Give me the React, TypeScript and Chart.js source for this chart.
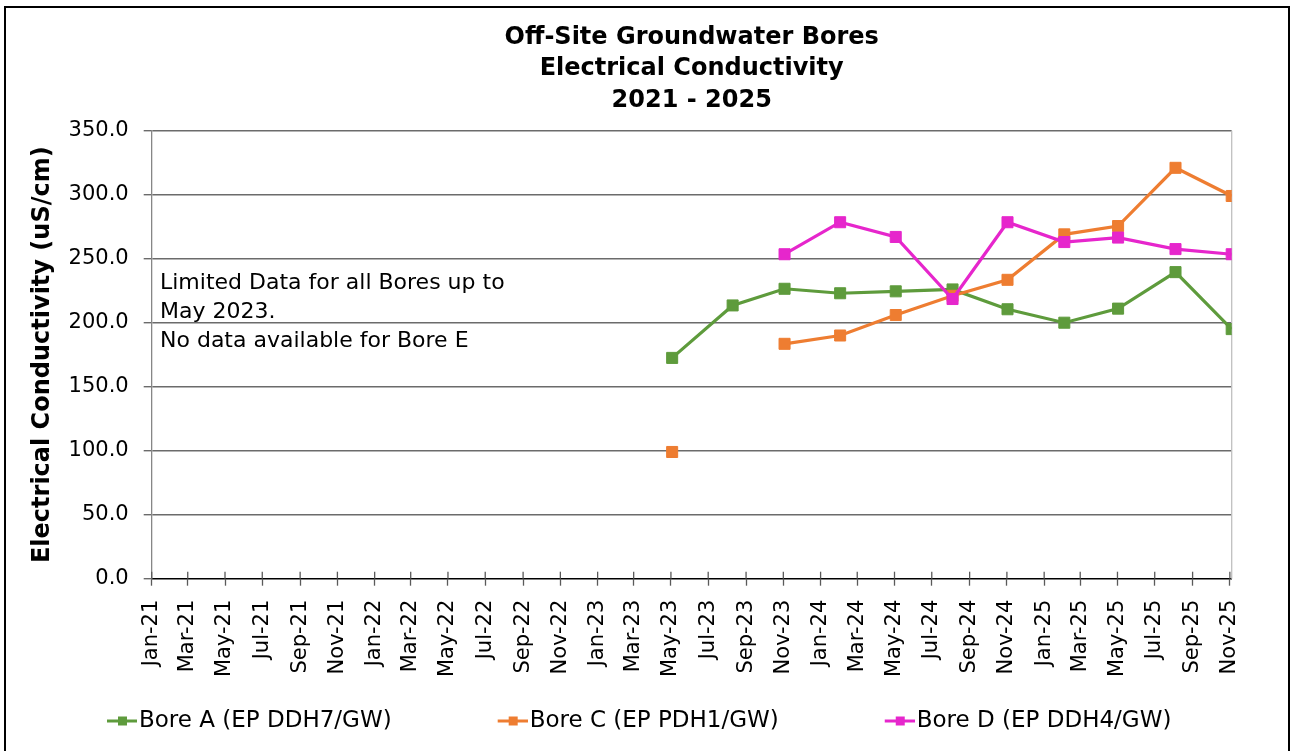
import React, { useEffect, useRef } from 'react';
import { Chart, registerables } from 'chart.js';

Chart.register(...registerables);

// ---- data ----
const SAMPLE_DATES = [
  '2023-05-03', '2023-08-10', '2023-11-03', '2024-02-02', '2024-05-03', '2024-08-04',
  '2024-11-02', '2025-02-03', '2025-05-02', '2025-08-04', '2025-11-04',
];
const BORE_A = [172.5, 213.5, 226.5, 223, 224.5, 226, 210.5, 200, 211, 239.5, 195];
const BORE_C = [99, null, 183.5, 190, 206, 221, 233.5, 269, 275.5, 321, 299];
const BORE_D = [null, null, 253.5, 278.5, 267, 218.5, 278.5, 263, 266.5, 257.5, 253.5];
const SERIES_NAMES = ['Bore A (EP DDH7/GW)', 'Bore C (EP PDH1/GW)', 'Bore D (EP DDH4/GW)'];
const SERIES_COLORS = ['#5E9B3C', '#EE7D31', '#E626CC'];
const TICK_LABELS = [
  'Jan-21', 'Mar-21', 'May-21', 'Jul-21', 'Sep-21', 'Nov-21',
  'Jan-22', 'Mar-22', 'May-22', 'Jul-22', 'Sep-22', 'Nov-22',
  'Jan-23', 'Mar-23', 'May-23', 'Jul-23', 'Sep-23', 'Nov-23',
  'Jan-24', 'Mar-24', 'May-24', 'Jul-24', 'Sep-24', 'Nov-24',
  'Jan-25', 'Mar-25', 'May-25', 'Jul-25', 'Sep-25', 'Nov-25',
];
const AXIS_START = '2021-01-01';
const AXIS_END = '2025-11-04';
const Y_MIN = 0;
const Y_MAX = 350;
const Y_STEP = 50;
const TITLE_LINES = ['Off-Site Groundwater Bores', 'Electrical Conductivity', '2021 - 2025'];
const Y_TITLE = 'Electrical Conductivity (uS/cm)';
const NOTE_LINES = ['Limited Data for all Bores up to', 'May 2023.', 'No data available for Bore E'];

const MONTHS = ['Jan', 'Feb', 'Mar', 'Apr', 'May', 'Jun', 'Jul', 'Aug', 'Sep', 'Oct', 'Nov', 'Dec'];

function dayIndex(iso: string): number {
  const [y, m, d] = iso.split('-').map(Number);
  const [y0, m0, d0] = AXIS_START.split('-').map(Number);
  return (Date.UTC(y, m - 1, d) - Date.UTC(y0, m0 - 1, d0)) / 86400000;
}

function labelToIso(label: string): string {
  const [mon, yy] = label.split('-');
  const m = MONTHS.indexOf(mon) + 1;
  return `20${yy}-${String(m).padStart(2, '0')}-01`;
}

const FONT = 'DejaVu Sans';
const GRID = '#6b6b6b';

function makeMarker(color: string): HTMLCanvasElement {
  const c = document.createElement('canvas');
  c.width = 119;
  c.height = 13;
  const ctx = c.getContext('2d')!;
  ctx.strokeStyle = color;
  ctx.lineWidth = 3;
  ctx.beginPath();
  ctx.moveTo(89, 6.5);
  ctx.lineTo(119, 6.5);
  ctx.stroke();
  ctx.fillStyle = color;
  ctx.fillRect(100, 2, 9, 9);
  return c;
}

const framePlugin = {
  id: 'frame',
  beforeDatasetsDraw(chart: any) {
    const { ctx, chartArea, scales } = chart;
    ctx.save();
    ctx.strokeStyle = '#BFBFBF';
    ctx.lineWidth = 1.3;
    ctx.beginPath();
    ctx.moveTo(chartArea.right, chartArea.top);
    ctx.lineTo(chartArea.right, chartArea.bottom);
    ctx.stroke();
    ctx.strokeStyle = '#5a5a5a';
    ctx.lineWidth = 1.3;
    scales.x.ticks.forEach((t: any) => {
      const px = scales.x.getPixelForValue(t.value);
      ctx.beginPath();
      ctx.moveTo(px, chartArea.bottom - 7);
      ctx.lineTo(px, chartArea.bottom);
      ctx.stroke();
    });
    ctx.restore();
  },
};

const notePlugin = {
  id: 'note',
  afterDraw(chart: any) {
    const { ctx, chartArea } = chart;
    ctx.save();
    ctx.font = `22px "${FONT}"`;
    ctx.fillStyle = '#000';
    ctx.textAlign = 'left';
    ctx.textBaseline = 'alphabetic';
    NOTE_LINES.forEach((line, i) => {
      ctx.fillText(line, chartArea.left + 8.3, chartArea.top + 158.6 + i * 28.7);
    });
    ctx.restore();
  },
};

export default function App() {
  const ref = useRef<HTMLCanvasElement>(null);

  useEffect(() => {
    const canvas = ref.current;
    if (!canvas) return;
    const markers = SERIES_COLORS.map((c) => makeMarker(c));
    const xs = SAMPLE_DATES.map(dayIndex);
    const series = [BORE_A, BORE_C, BORE_D];
    const orders = [3, 2, 1];

    const datasets = series.map((vals, i) => ({
      label: SERIES_NAMES[i],
      data: vals.map((v, j) => ({ x: xs[j], y: v })),
      borderColor: SERIES_COLORS[i],
      backgroundColor: SERIES_COLORS[i],
      pointBackgroundColor: SERIES_COLORS[i],
      pointBorderColor: SERIES_COLORS[i],
      borderWidth: 3.2,
      pointStyle: 'rect',
      pointRadius: 7.8,
      pointBorderWidth: 1,
      spanGaps: false,
      tension: 0,
      order: orders[i],
    }));

    const tickValues = TICK_LABELS.map((l) => dayIndex(labelToIso(l)));

    const chart = new Chart(canvas, {
      type: 'line',
      data: { datasets },
      plugins: [framePlugin, notePlugin],
      options: {
        animation: false,
        responsive: false,
        devicePixelRatio: 1,
        events: [],
        font: { family: FONT },
        color: '#000',
        layout: { padding: { left: 1, right: 58.3, top: 8, bottom: 8.5 } },
        plugins: {
          tooltip: { enabled: false },
          title: {
            display: true,
            text: TITLE_LINES,
            fullSize: false,
            color: '#000',
            font: { family: FONT, size: 24, weight: 'bold', lineHeight: 31.7 / 24 },
            padding: { top: 13.65, bottom: 13.95 },
          },
          legend: {
            display: true,
            position: 'bottom',
            align: 'start',
            labels: {
              color: '#000',
              font: { family: FONT, size: 23 },
              usePointStyle: true,
              pointStyleWidth: 100,
              padding: 26.5,
              sort: (a: any, b: any) => a.datasetIndex - b.datasetIndex,
              generateLabels: (ch: any) => {
                const items = (Chart as any).defaults.plugins.legend.labels.generateLabels(ch);
                return items.map((it: any) => ({ ...it, pointStyle: markers[it.datasetIndex] }));
              },
            },
          },
        },
        scales: {
          x: {
            type: 'linear',
            min: dayIndex(AXIS_START),
            max: dayIndex(AXIS_END),
            afterBuildTicks: (scale: any) => {
              scale.ticks = tickValues.map((v) => ({ value: v }));
            },
            afterFit: (scale: any) => {
              scale.height = 104.3;
            },
            ticks: {
              autoSkip: false,
              minRotation: 90,
              maxRotation: 90,
              padding: 14,
              color: '#000',
              font: { family: FONT, size: 21 },
              callback: (_v: any, i: number) => TICK_LABELS[i],
            },
            grid: {
              display: true,
              drawOnChartArea: false,
              drawTicks: true,
              tickLength: 7,
              tickWidth: 1.3,
              tickColor: '#5a5a5a',
            },
            border: { display: true, color: '#000', width: 1.5 },
          },
          y: {
            type: 'linear',
            min: Y_MIN,
            max: Y_MAX,
            afterFit: (scale: any) => {
              scale.width = 150.7;
            },
            ticks: {
              stepSize: Y_STEP,
              padding: 15,
              color: '#000',
              font: { family: FONT, size: 21 },
              callback: (v: any) => Number(v).toFixed(1),
            },
            grid: {
              drawTicks: true,
              tickLength: 8,
              lineWidth: 1.4,
              color: (ctx: any) => (ctx.tick && ctx.tick.value === 0 ? 'rgba(0,0,0,0)' : GRID),
              tickColor: GRID,
            },
            border: { display: true, color: '#868686', width: 1.3 },
            title: {
              display: true,
              text: Y_TITLE,
              color: '#000',
              font: { family: FONT, size: 24, weight: 'bold' },
              padding: { top: 27.6, bottom: 0 },
            },
          },
        },
      } as any,
    });
    return () => chart.destroy();
  }, []);

  return (
    <div style={{ position: 'absolute', left: 0, top: 0, width: 1290, height: 751, overflow: 'hidden', background: '#fff' }}>
      <div
        style={{
          position: 'absolute', left: 4, top: 6, width: 1286, height: 800,
          border: '2px solid #000', boxSizing: 'border-box',
        }}
      />
      <canvas
        ref={ref}
        width={1290}
        height={751}
        style={{ position: 'absolute', left: 0, top: 0, width: 1290, height: 751, display: 'block' }}
      />
    </div>
  );
}
